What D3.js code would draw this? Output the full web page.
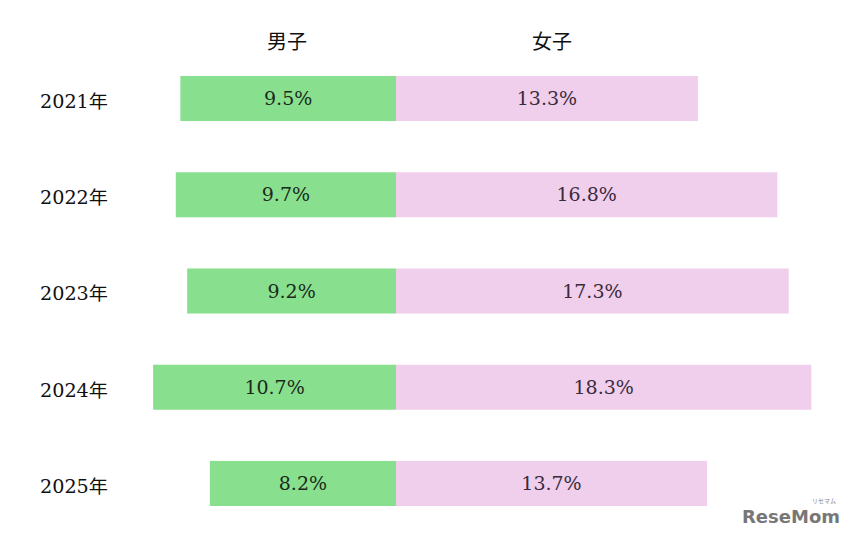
<!DOCTYPE html>
<html>
<head>
<meta charset="utf-8">
<script src="https://cdn.jsdelivr.net/npm/d3@7"></script>
<style>
  body { margin: 0; background: #fff; }
  svg text { font-family: "DejaVu Serif", "Liberation Serif", "Noto Sans CJK JP", serif; }
</style>
</head>
<body>
<div id="chart"></div>
<script>
var years = ["2021年", "2022年", "2023年", "2024年", "2025年"];
var boys = [9.5, 9.7, 9.2, 10.7, 8.2];
var girls = [13.3, 16.8, 17.3, 18.3, 13.7];
var headers = ["男子", "女子"];

var width = 851, height = 537;

var svg = d3.select("#chart")
    .append("svg")
    .attr("width", width)
    .attr("height", height);

// center line sits at x=396, ~22.7px per percent
var x = d3.scaleLinear()
    .domain([-11, 19])
    .range([146.3, 827.3]);

var y = d3.scaleBand()
    .domain(years)
    .range([76, 506])
    .paddingInner(0.532)
    .paddingOuter(0);

var rows = years.map(function (d, i) {
    return { year: d, boy: boys[i], girl: girls[i] };
});

// headers
svg.selectAll(".head")
    .data(headers)
    .enter()
    .append("text")
    .attr("class", "head")
    .attr("x", function (d, i) { return i === 0 ? 287 : 552; })
    .attr("y", 49)
    .attr("text-anchor", "middle")
    .attr("font-size", 20)
    .attr("fill", "#111")
    .text(function (d) { return d; });

var row = svg.selectAll(".row")
    .data(rows)
    .enter()
    .append("g")
    .attr("class", "row");

row.append("rect")
    .attr("x", function (d) { return x(-d.boy); })
    .attr("y", function (d) { return y(d.year); })
    .attr("width", function (d) { return x(0) - x(-d.boy); })
    .attr("height", y.bandwidth())
    .attr("fill", "#88e08f");

row.append("rect")
    .attr("x", x(0))
    .attr("y", function (d) { return y(d.year); })
    .attr("width", function (d) { return x(d.girl) - x(0); })
    .attr("height", y.bandwidth())
    .attr("fill", "#f0cfed");

row.append("text")
    .attr("x", 40)
    .attr("y", function (d) { return y(d.year) + y.bandwidth() / 2 + 3; })
    .attr("dy", "0.35em")
    .attr("font-size", 18)
    .attr("textLength", 68)
    .attr("lengthAdjust", "spacingAndGlyphs")
    .attr("fill", "#111")
    .text(function (d) { return d.year; });

row.append("text")
    .attr("x", function (d) { return (x(-d.boy) + x(0)) / 2; })
    .attr("y", function (d) { return y(d.year) + y.bandwidth() / 2; })
    .attr("dy", "0.35em")
    .attr("text-anchor", "middle")
    .attr("font-size", 19)
    .attr("fill", "#1a2a1a")
    .text(function (d) { return d.boy.toFixed(1) + "%"; });

row.append("text")
    .attr("x", function (d) { return (x(0) + x(d.girl)) / 2; })
    .attr("y", function (d) { return y(d.year) + y.bandwidth() / 2; })
    .attr("dy", "0.35em")
    .attr("text-anchor", "middle")
    .attr("font-size", 19)
    .attr("fill", "#3a2a3a")
    .text(function (d) { return d.girl.toFixed(1) + "%"; });

// watermark
svg.append("text")
    .attr("x", 742)
    .attr("y", 523)
    .attr("font-size", 18)
    .attr("font-weight", "bold")
    .style("font-family", "'DejaVu Sans', sans-serif")
    .attr("fill", "#777")
    .text("ReseMom");

svg.append("text")
    .attr("x", 812)
    .attr("y", 503)
    .attr("font-size", 6)
    .attr("fill", "#888")
    .style("font-family", "'Noto Sans CJK JP', sans-serif")
    .text("リセマム");
</script>
</body>
</html>
